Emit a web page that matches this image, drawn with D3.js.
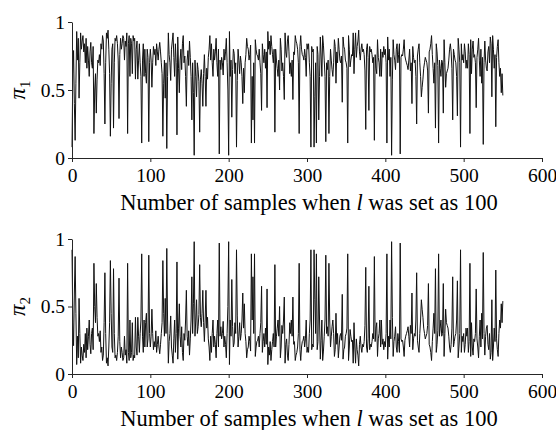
<!DOCTYPE html>
<html>
<head>
<meta charset="utf-8">
<script src="https://cdn.jsdelivr.net/npm/d3@7"></script>
<style>
  body { margin: 0; background: #fff; }
  text { font-family: "Liberation Serif", "Times New Roman", serif; }
</style>
</head>
<body>
<script>
	// values (one per sample)
	var pi1 = [
		.08,.62,.79,.40,.13,.55,.93,.72,.88,.44, .70,.92,.80,.86,.90,.78,.84,.70,.88,.66,
		.82,.72,.60,.78,.85,.70,.66,.82,.18,.50, .62,.33,.58,.72,.70,.76,.68,.84,.80,.90,
		.86,.62,.25,.70,.92,.88,.94,.80,.62,.16, .55,.80,.84,.22,.70,.88,.86,.90,.84,.72,
		.29,.76,.88,.80,.84,.90,.88,.72,.86,.82, .92,.18,.84,.90,.60,.88,.84,.62,.90,.86,
		.88,.58,.80,.86,.58,.72,.84,.70,.60,.11, .72,.84,.60,.80,.62,.55,.80,.74,.12,.70,
		.80,.72,.52,.70,.82,.76,.80,.68,.84,.78, .72,.80,.85,.78,.70,.62,.16,.55,.72,.44,
		.70,.07,.60,.92,.76,.70,.57,.80,.86,.92, .74,.60,.84,.70,.17,.89,.66,.48,.72,.80,
		.65,.84,.90,.70,.75,.60,.38,.72,.79,.68, .86,.74,.60,.28,.70,.48,.02,.72,.60,.45,
		.70,.65,.56,.19,.58,.65,.55,.38,.62,.76, .60,.38,.66,.58,.74,.80,.90,.72,.84,.70,
		.60,.80,.72,.78,.88,.70,.60,.80,.03,.72, .65,.74,.70,.61,.80,.72,.78,.88,.70,.50,
		.02,.93,.60,.72,.30,.65,.80,.77,.62,.70, .08,.57,.80,.72,.62,.75,.70,.60,.40,.66,
		.48,.70,.76,.88,.82,.80,.72,.76,.83,.11, .60,.28,.70,.11,.87,.80,.76,.75,.72,.80,
		.70,.62,.35,.84,.76,.70,.80,.66,.78,.37, .93,.80,.86,.76,.90,.82,.76,.70,.80,.19,
		.80,.72,.66,.60,.72,.50,.88,.80,.64,.70, .60,.43,.92,.78,.74,.86,.90,.78,.62,.70,
		.60,.72,.43,.78,.76,.90,.86,.84,.80,.70, .18,.82,.90,.80,.76,.75,.72,.80,.74,.60,
		.84,.80,.84,.70,.60,.08,.82,.78,.80,.08, .45,.70,.11,.82,.76,.28,.60,.89,.75,.60,
		.90,.83,.72,.60,.12,.70,.65,.72,.18,.60, .80,.72,.65,.60,.70,.87,.82,.55,.78,.70,
		.88,.80,.72,.70,.75,.41,.89,.82,.80,.72, .70,.66,.11,.90,.80,.67,.72,.76,.75,.92,
		.62,.80,.92,.74,.82,.86,.94,.78,.72,.80, .84,.78,.80,.76,.64,.21,.80,.84,.74,.35,
		.82,.78,.80,.76,.70,.74,.13,.76,.66,.62, .87,.74,.70,.60,.80,.60,.78,.74,.82,.76,
		.80,.70,.11,.89,.72,.80,.60,.74,.02,.58, .87,.76,.72,.65,.80,.84,.70,.76,.84,.03,
		.74,.76,.75,.80,.87,.75,.72,.70,.68,.65, .72,.80,.64,.70,.40,.82,.74,.70,.72,.60,
		.25,.75,.80,.84,.70,.60,.45,.52,.58,.66, .70,.74,.72,.70,.64,.33,.78,.80,.84,.90,
		.76,.66,.55,.70,.22,.84,.78,.68,.11,.72, .66,.60,.72,.70,.33,.87,.70,.52,.62,.64,
		.66,.72,.80,.84,.78,.66,.28,.80,.76,.72, .70,.60,.31,.88,.80,.70,.08,.84,.72,.76,
		.70,.84,.78,.66,.72,.66,.84,.76,.18,.87, .62,.80,.86,.74,.76,.70,.37,.74,.80,.88,
		.72,.60,.80,.55,.74,.10,.70,.86,.72,.66, .64,.78,.82,.70,.89,.84,.45,.90,.80,.66,
		.76,.23,.74,.82,.87,.70,.60,.66,.48,.62, .46
	];

	var pi2 = [
		.92,.38,.21,.60,.87,.45,.07,.28,.12,.56, .30,.08,.20,.14,.10,.22,.16,.30,.12,.34,
		.18,.28,.40,.22,.15,.30,.34,.18,.82,.50, .38,.67,.42,.28,.30,.24,.32,.16,.20,.10,
		.14,.38,.75,.30,.08,.12,.06,.20,.38,.84, .45,.20,.16,.78,.30,.12,.14,.10,.16,.28,
		.71,.24,.12,.20,.16,.10,.12,.28,.14,.18, .08,.82,.16,.10,.40,.12,.16,.38,.10,.14,
		.12,.42,.20,.14,.42,.28,.16,.30,.40,.89, .28,.16,.40,.20,.38,.45,.20,.26,.88,.30,
		.20,.28,.48,.30,.18,.24,.20,.32,.16,.22, .28,.20,.15,.22,.30,.38,.84,.45,.28,.56,
		.30,.93,.40,.08,.24,.30,.43,.20,.14,.08, .26,.40,.16,.30,.83,.11,.34,.52,.28,.20,
		.35,.16,.10,.30,.25,.40,.62,.28,.21,.32, .14,.26,.40,.72,.30,.52,.98,.28,.40,.55,
		.30,.35,.44,.81,.42,.35,.45,.62,.38,.24, .40,.62,.34,.42,.26,.20,.10,.28,.16,.30,
		.40,.20,.28,.22,.12,.30,.40,.20,.97,.28, .35,.26,.30,.39,.20,.28,.22,.12,.30,.50,
		.98,.07,.40,.28,.70,.35,.20,.23,.38,.30, .92,.43,.20,.28,.38,.25,.30,.40,.60,.34,
		.52,.30,.24,.12,.18,.20,.28,.24,.17,.89, .40,.72,.30,.89,.13,.20,.24,.25,.28,.20,
		.30,.38,.65,.16,.24,.30,.20,.34,.22,.63, .07,.20,.14,.24,.10,.18,.24,.30,.20,.81,
		.20,.28,.34,.40,.28,.50,.12,.20,.36,.30, .40,.57,.08,.22,.26,.14,.10,.22,.38,.30,
		.40,.28,.57,.22,.24,.10,.14,.16,.20,.30, .82,.18,.10,.20,.24,.25,.28,.20,.26,.40,
		.16,.20,.16,.30,.40,.92,.18,.22,.20,.92, .55,.30,.89,.18,.24,.72,.40,.11,.25,.40,
		.10,.17,.28,.40,.88,.30,.35,.28,.82,.40, .20,.28,.35,.40,.30,.13,.18,.45,.22,.30,
		.12,.20,.28,.30,.25,.59,.11,.18,.20,.28, .30,.34,.89,.10,.20,.33,.28,.24,.25,.08,
		.38,.20,.08,.26,.18,.14,.06,.22,.28,.20, .16,.22,.20,.24,.36,.79,.20,.16,.26,.65,
		.18,.22,.20,.24,.30,.26,.87,.24,.34,.38, .13,.26,.30,.40,.20,.40,.22,.26,.18,.24,
		.20,.30,.89,.11,.28,.20,.40,.26,.98,.42, .13,.24,.28,.35,.20,.16,.30,.24,.16,.97,
		.26,.24,.25,.20,.13,.25,.28,.30,.32,.35, .28,.20,.36,.30,.60,.18,.26,.30,.28,.40,
		.75,.25,.20,.16,.30,.40,.55,.48,.42,.34, .30,.26,.28,.30,.36,.67,.22,.20,.16,.10,
		.24,.34,.45,.30,.78,.16,.22,.32,.89,.28, .34,.40,.28,.30,.67,.13,.30,.48,.38,.36,
		.34,.28,.20,.16,.22,.34,.72,.20,.24,.28, .30,.40,.69,.12,.20,.30,.92,.16,.28,.24,
		.30,.16,.22,.34,.28,.34,.16,.24,.82,.13, .38,.20,.14,.26,.24,.30,.63,.26,.20,.12,
		.28,.40,.20,.45,.26,.90,.30,.14,.28,.34, .36,.22,.18,.30,.11,.16,.55,.10,.20,.34,
		.24,.77,.26,.18,.13,.30,.40,.34,.52,.38, .54
	];

	var xTicks = [0, 100, 200, 300, 400, 500, 600];
	var yTicks = [0, 0.5, 1];
	var yTickLabels = ["0", "0.5", "1"];
	var panels = [
		{ values: pi1, sub: "1" },
		{ values: pi2, sub: "2" }
	];

	var svg_w = 556, svg_h = 430;
	var svg = d3.select("body").append("svg")
		.attr("width", svg_w)
		.attr("height", svg_h)
		.style("background", "#fff");

	var left = 72, right = 542;
	var tops = [22, 239], bottoms = [158, 374];
	var axisColor = "#262626";

	var x = d3.scaleLinear().domain([0, 600]).range([left, right]);

	panels.forEach(function(p, k) {
		var y = d3.scaleLinear().domain([0, 1]).range([bottoms[k], tops[k]]);
		var g = svg.append("g");

		// the series line
		var line = d3.line()
			.x(function(d, i) { return x(i); })
			.y(function(d) { return y(d); });

		g.append("path")
			.datum(p.values)
			.attr("fill", "none")
			.attr("stroke", "#111")
			.attr("stroke-width", 1)
			.attr("stroke-linejoin", "round")
			.attr("d", line);

		// axes
		var xAxis = d3.axisBottom(x).tickValues(xTicks).tickSize(4).tickSizeOuter(0)
			.tickFormat(d3.format("d"));
		var yAxis = d3.axisLeft(y).tickValues(yTicks).tickSize(4).tickSizeOuter(0)
			.tickFormat(function(d, i) { return yTickLabels[i]; });

		var gx = g.append("g")
			.attr("transform", "translate(0," + bottoms[k] + ")")
			.call(xAxis);
		var gy = g.append("g")
			.attr("transform", "translate(" + left + ",0)")
			.call(yAxis);

		[gx, gy].forEach(function(a) {
			a.select(".domain").attr("stroke", axisColor).attr("stroke-width", 1);
			a.selectAll(".tick line").attr("stroke", axisColor).attr("stroke-width", 1);
			a.selectAll(".tick text")
				.attr("fill", "#000")
				.style("font-family", "'Liberation Serif', serif")
				.style("font-size", "19.5px");
		});
		gx.selectAll(".tick text").attr("dy", "0.9em").attr("y", 6);
		gy.selectAll(".tick text").attr("x", -7);

		// x label
		var xl = g.append("text")
			.attr("x", (left + right) / 2 + 2)
			.attr("y", bottoms[k] + 52)
			.attr("text-anchor", "middle")
			.style("font-size", "22.5px")
			.attr("fill", "#000");
		xl.append("tspan").text("Number of samples when ");
		xl.append("tspan").style("font-style", "italic").text("l");
		xl.append("tspan").text(" was set as 100");

		// y label
		var yl = g.append("text")
			.attr("transform", "translate(25," + ((tops[k] + bottoms[k]) / 2) + ") rotate(-90)")
			.attr("text-anchor", "middle")
			.style("font-size", "23px")
			.attr("fill", "#000");
		yl.append("tspan").style("font-style", "italic").text("π");
		yl.append("tspan").attr("dy", 5).style("font-size", "15px").text(p.sub);
	});
</script>
</body>
</html>
